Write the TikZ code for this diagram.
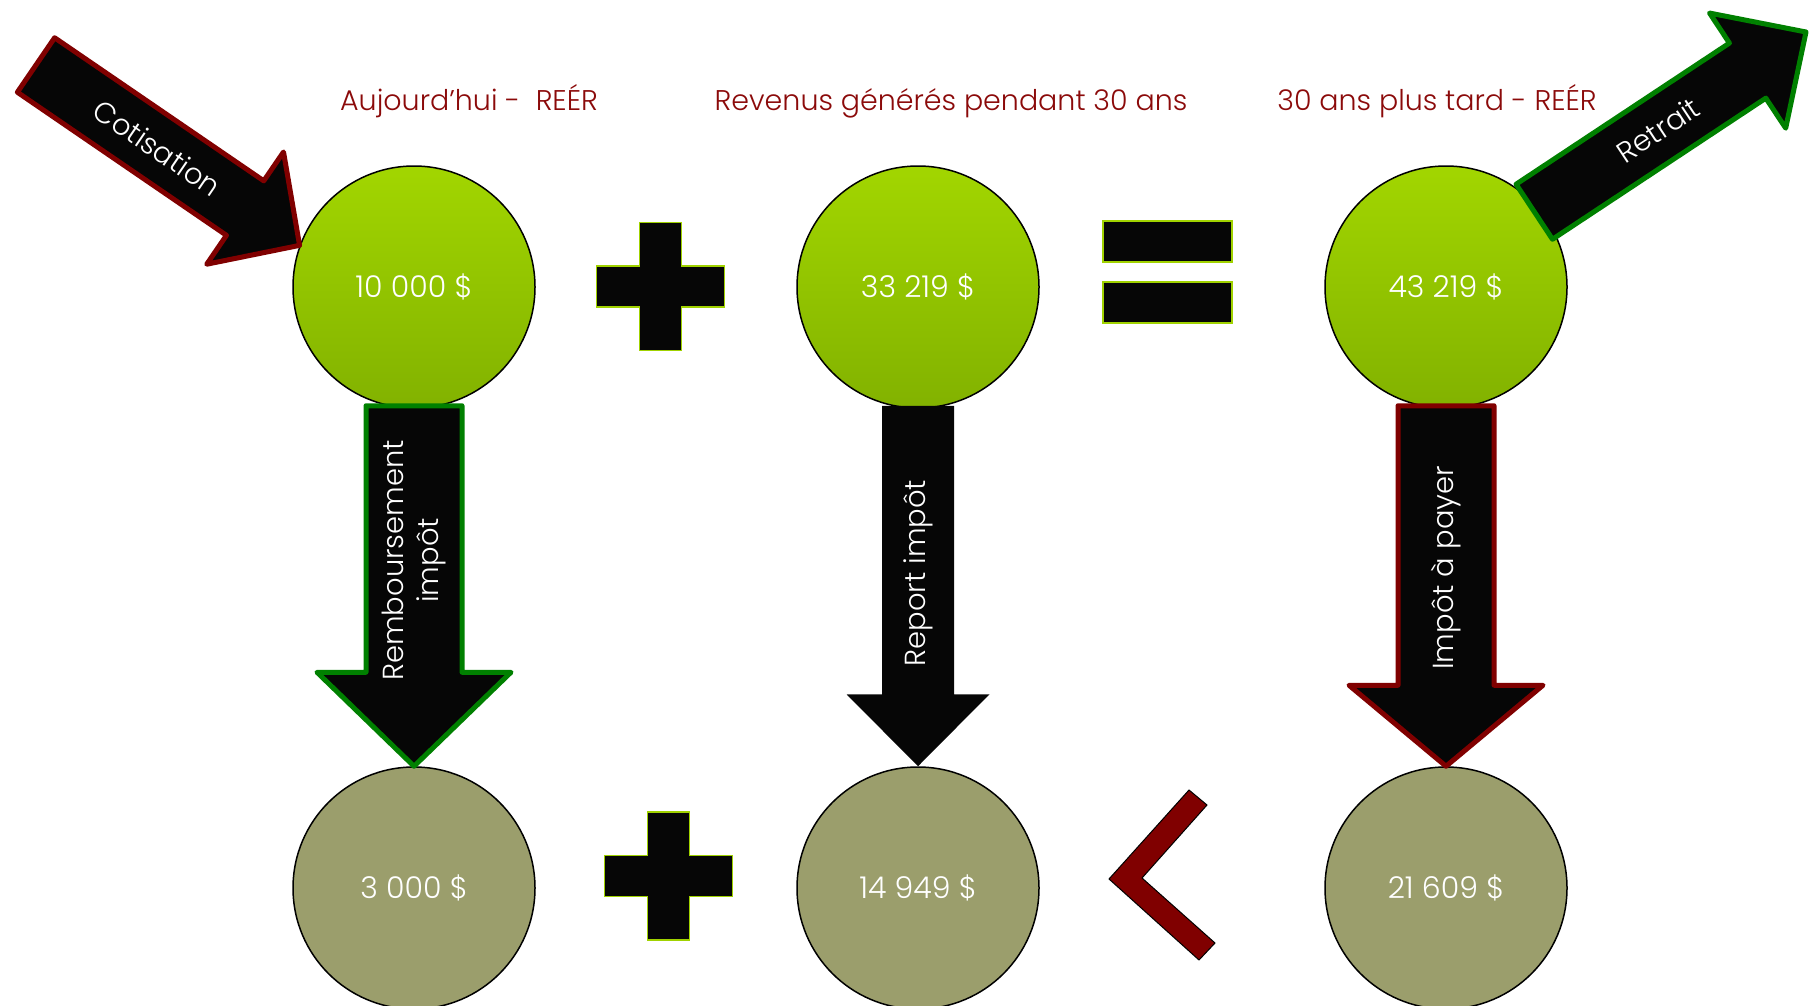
\documentclass[tikz,border=0pt]{standalone}
\usepackage{fontspec}
\setmainfont{Poppins Light}
\usepackage{tikz}
\usetikzlibrary{calc}

\definecolor{titlered}{RGB}{139,10,10}
\definecolor{darkedge}{RGB}{128,0,0}
\definecolor{greenedge}{RGB}{0,128,0}
\definecolor{limetop}{RGB}{162,214,0}
\definecolor{limebot}{RGB}{130,178,0}
\definecolor{oliveval}{RGB}{155,158,108}
\definecolor{arrblack}{RGB}{6,6,6}
\definecolor{limeedge}{RGB}{160,210,0}

% block arrow: [style]{from}{to}{shaft half width}{head half width}{head length}{label}
\newcommand{\blockarrow}[7][]{%
  \coordinate (ba-s) at (#2);
  \coordinate (ba-e) at (#3);
  \coordinate (ba-h) at ($(ba-e)!#6!(ba-s)$);
  \draw[bigarr,#1] ($(ba-s)!#4!90:(ba-e)$) -- ($(ba-h)!#4!90:(ba-e)$)
    -- ($(ba-h)!#5!90:(ba-e)$) -- (ba-e) -- ($(ba-h)!#5!-90:(ba-e)$)
    -- ($(ba-h)!#4!-90:(ba-e)$) -- ($(ba-s)!#4!-90:(ba-e)$) -- cycle;
  \path (ba-h) -- (ba-s) node[pos=0.42, sloped, arrlabel] {#7};
}

\begin{document}
\begin{tikzpicture}[
  x=1pt, y=-1pt,
  money/.style={circle, draw=black, line width=1.5pt, minimum size=242pt, inner sep=0pt,
                text=white, font=\fontsize{30}{36}\selectfont},
  nowval/.style={money, top color=limetop, bottom color=limebot},
  laterval/.style={money, fill=oliveval},
  heading/.style={anchor=base, text=titlered, font=\fontsize{28.5}{34}\selectfont},
  bigarr/.style={fill=arrblack, line width=5pt, line join=round},
  arrlabel/.style={text=white, align=center, inner sep=0pt, font=\fontsize{29}{35}\selectfont},
  sym/.style={fill=arrblack, draw=limeedge, line width=1.5pt}
]
\useasboundingbox (0,0) rectangle (1820,1006);

% titles
\node[heading] (t-now) at (469,111) {Aujourd’hui -\ \ REÉR};
\node[heading] (t-rev) at (951,111) {Revenus générés pendant 30 ans};
\node[heading] (t-late) at (1437,111) {30 ans plus tard - REÉR};

% values
\node[nowval] (auj) at (414,287) {10 000 \$};
\node[nowval] (rev) at (918,287) {33 219 \$};
\node[nowval] (tard) at (1446,287) {43 219 \$};
\node[laterval] (remb) at (414,888) {3 000 \$};
\node[laterval] (report) at (918,888) {14 949 \$};
\node[laterval] (impot) at (1446,888) {21 609 \$};

% plus, equals, less than
\foreach \cx/\cy in {660.5/286.5, 668.5/876}
  \draw[sym, shift={(\cx,\cy)}] (-21,-64) -- (21,-64) -- (21,-20.5) -- (64,-20.5) -- (64,20.5)
    -- (21,20.5) -- (21,64) -- (-21,64) -- (-21,20.5) -- (-64,20.5) -- (-64,-20.5) -- (-21,-20.5) -- cycle;
\draw[sym] (1103,221) rectangle (1232,262);
\draw[sym] (1103,282) rectangle (1232,323);
\draw[fill=darkedge, draw=black, line width=1pt] (1109,879) -- (1189,790) -- (1207,805) -- (1142,878)
  -- (1215,943) -- (1199,960) -- cycle;

% arrows
\coordinate (cot-tail) at (36,65);
\coordinate (ret-tip) at (1806,32);
\blockarrow[draw=darkedge]{cot-tail}{auj.160}{33pt}{68pt}{66pt}{Cotisation}
\blockarrow[draw=greenedge]{[xshift=-5pt,yshift=-3pt]tard.40}{ret-tip}{33pt}{69pt}{70pt}{Retrait}
\blockarrow[draw=greenedge]{[yshift=3pt]auj.south}{remb.north}{48pt}{97pt}{94pt}{Remboursement\\impôt}
\blockarrow[draw=none]{[yshift=3pt]rev.south}{report.north}{36pt}{71.5pt}{72pt}{Report impôt}
\blockarrow[draw=darkedge]{[yshift=3pt]tard.south}{impot.north}{48pt}{97pt}{81pt}{Impôt à payer}
\end{tikzpicture}
\end{document}
